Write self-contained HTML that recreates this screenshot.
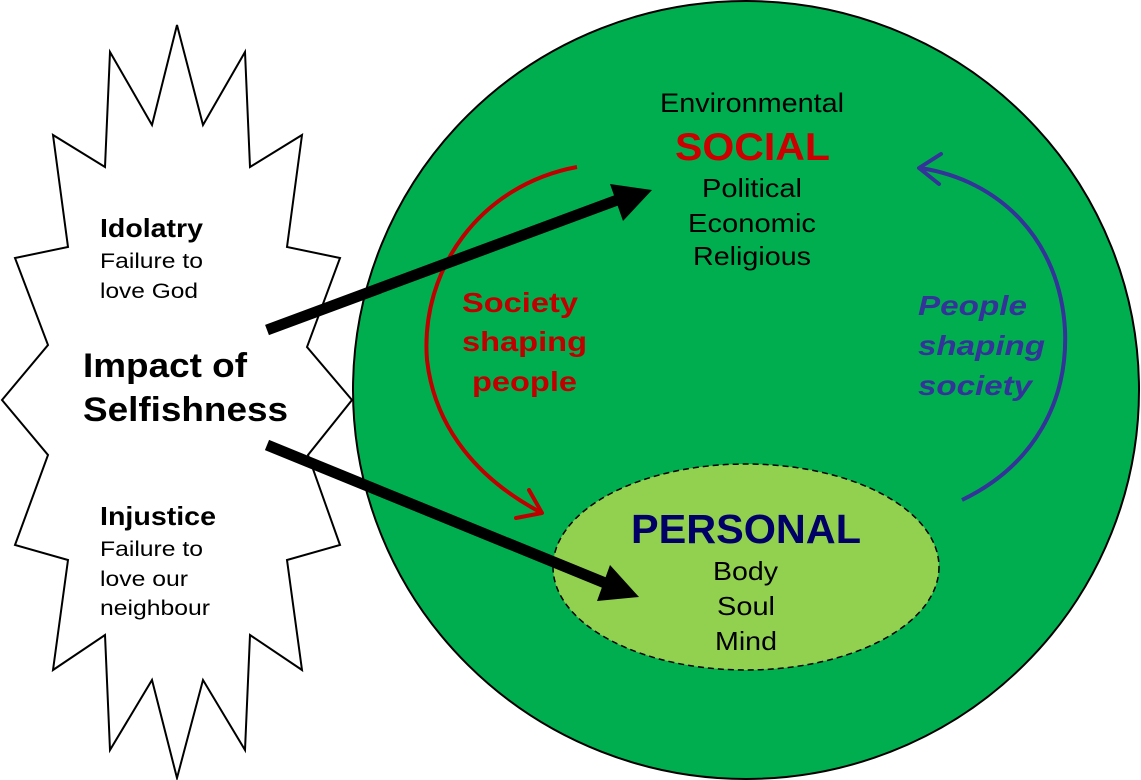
<!DOCTYPE html>
<html><head><meta charset="utf-8"><style>
html,body{margin:0;padding:0;background:#fff;}
svg{display:block;}
text{font-family:"Liberation Sans",Arial,sans-serif;}
</style></head><body>
<svg width="1141" height="780" viewBox="0 0 1141 780" xmlns="http://www.w3.org/2000/svg">
<polygon points="177,25 203,125 245,52 250,167 302,135 287,247 340,258 307,347 352,400 308,455 340,545 287,560 302,670 250,635 245,750 203,680 177,778 152,680 110,750 105,635 53,670 68,560 15,545 48,455 2,400 48,345 15,258 68,247 53,135 105,167 110,52 152,125" fill="#fff" stroke="#000" stroke-width="2" stroke-linejoin="miter"/>
<ellipse cx="746" cy="390" rx="393" ry="389" fill="#00AE50" stroke="#000" stroke-width="2"/>
<ellipse cx="746" cy="567" rx="193" ry="103" fill="#92D050" stroke="#000" stroke-width="1.5" stroke-dasharray="6,4"/>

<g fill="#000" lengthAdjust="spacingAndGlyphs">
<text x="100" y="237" font-size="26" font-weight="bold" textLength="103" lengthAdjust="spacingAndGlyphs">Idolatry</text>
<text x="100" y="268" font-size="21" textLength="103" lengthAdjust="spacingAndGlyphs">Failure to</text>
<text x="100" y="298" font-size="21" textLength="98" lengthAdjust="spacingAndGlyphs">love God</text>
<text x="83" y="377" font-size="34" font-weight="bold" textLength="164" lengthAdjust="spacingAndGlyphs">Impact of</text>
<text x="83" y="421" font-size="34" font-weight="bold" textLength="205" lengthAdjust="spacingAndGlyphs">Selfishness</text>
<text x="100" y="525" font-size="26" font-weight="bold" textLength="116" lengthAdjust="spacingAndGlyphs">Injustice</text>
<text x="100" y="556" font-size="21" textLength="103" lengthAdjust="spacingAndGlyphs">Failure to</text>
<text x="100" y="586" font-size="21" textLength="88" lengthAdjust="spacingAndGlyphs">love our</text>
<text x="100" y="615" font-size="21" textLength="110" lengthAdjust="spacingAndGlyphs">neighbour</text>

<text x="660" y="112" font-size="27" textLength="184" lengthAdjust="spacingAndGlyphs">Environmental</text>
<text x="675" y="160" font-size="39" font-weight="bold" fill="#CC0000" textLength="155" lengthAdjust="spacingAndGlyphs">SOCIAL</text>
<text x="702" y="197" font-size="26" textLength="100" lengthAdjust="spacingAndGlyphs">Political</text>
<text x="688" y="232" font-size="26" textLength="128" lengthAdjust="spacingAndGlyphs">Economic</text>
<text x="693" y="265" font-size="26" textLength="118" lengthAdjust="spacingAndGlyphs">Religious</text>
<text x="631" y="543" font-size="41" font-weight="bold" fill="#000066" textLength="230" lengthAdjust="spacingAndGlyphs">PERSONAL</text>
<text x="713" y="580" font-size="26" textLength="65" lengthAdjust="spacingAndGlyphs">Body</text>
<text x="717" y="615" font-size="26" textLength="58" lengthAdjust="spacingAndGlyphs">Soul</text>
<text x="715" y="650" font-size="26" textLength="62" lengthAdjust="spacingAndGlyphs">Mind</text>
</g>
<g fill="#C00000" font-weight="bold" font-size="28">
<text x="462" y="312" textLength="116" lengthAdjust="spacingAndGlyphs">Society</text>
<text x="462" y="351" textLength="125" lengthAdjust="spacingAndGlyphs">shaping</text>
<text x="472" y="391" textLength="105" lengthAdjust="spacingAndGlyphs">people</text>
</g>
<g fill="#333399" font-weight="bold" font-style="italic" font-size="28">
<text x="918" y="315" textLength="109" lengthAdjust="spacingAndGlyphs">People</text>
<text x="918" y="355" textLength="127" lengthAdjust="spacingAndGlyphs">shaping</text>
<text x="918" y="395" textLength="114" lengthAdjust="spacingAndGlyphs">society</text>
</g>

<path d="M577,167 C480,185 420,270 427,360 C435,430 480,480 540,512" fill="none" stroke="#C00000" stroke-width="4"/>
<path d="M529,490 L542,513 L516,518" fill="none" stroke="#C00000" stroke-width="4" stroke-linecap="round" stroke-linejoin="round"/>

<path d="M962,500 C1035,465 1068,400 1065,330 C1060,240 1000,180 920,168" fill="none" stroke="#333399" stroke-width="4"/>
<path d="M941,154 L919,168 L939,184" fill="none" stroke="#333399" stroke-width="4" stroke-linecap="round" stroke-linejoin="round"/>

<line x1="267" y1="330" x2="620" y2="199" stroke="#000" stroke-width="11"/>
<polygon points="652,190 610,184 623,221" fill="#000"/>
<line x1="267" y1="445" x2="610" y2="585" stroke="#000" stroke-width="11"/>
<polygon points="639,597 610,565 597,601" fill="#000"/>
</svg>
</body></html>
